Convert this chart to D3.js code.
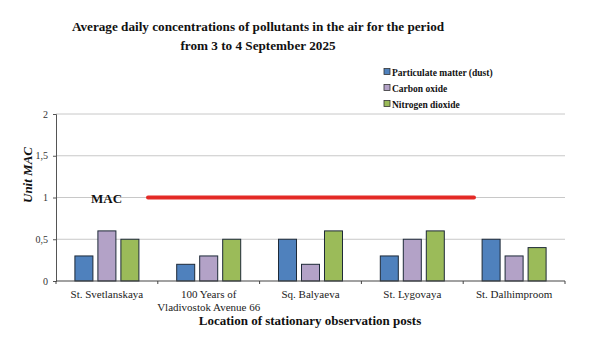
<!DOCTYPE html>
<html><head><meta charset="utf-8">
<script src="https://cdn.jsdelivr.net/npm/d3@7"></script>
</head>
<body style="margin:0;background:#fff"><svg id="c" width="591" height="346" style="font-family:'Liberation Serif'"></svg>
<script>
const categories = [["St. Svetlanskaya"], ["100 Years of", "Vladivostok Avenue 66"], ["Sq. Balyaeva"], ["St. Lygovaya"], ["St. Dalhimproom"]];
const seriesNames = ["Particulate matter (dust)", "Carbon oxide", "Nitrogen dioxide"];
const dust = [0.3, 0.2, 0.5, 0.3, 0.5];
const carbon = [0.6, 0.3, 0.2, 0.5, 0.3];
const nitrogen = [0.5, 0.5, 0.6, 0.6, 0.4];
const yTicks = [0, 0.5, 1, 1.5, 2];
const macValue = 1;
const colors = ["#4f81bd", "#b3a2c7", "#9bbb59"];
const series = [dust, carbon, nitrogen];
const FONT = '"Liberation Serif"';

const svg = d3.select("#c");
const L = 56, R = 565, T = 114, B = 281;
const GW = 64;
const x = d3.scaleBand().domain(d3.range(categories.length)).range([L, R]).paddingInner(0).paddingOuter(0);
const y = d3.scaleLinear().domain([0, 2]).range([B, T]);
const xi = d3.scaleBand().domain(d3.range(3)).range([0, GW]).paddingInner(0.217).paddingOuter(0);

function txt(sel) { return sel.append("text").style("font-family", FONT); }

// title
const titleLines = ["Average daily concentrations of pollutants in the air for the period", "from 3 to 4 September 2025"];
svg.append("g").selectAll("text").data(titleLines).join("text")
  .style("font-family", FONT)
  .attr("x", 258).attr("y", (d, i) => 31 + i * 19)
  .attr("text-anchor", "middle").attr("font-weight", "bold").attr("font-size", 13.2).attr("fill", "#111")
  .text(d => d);

// gridlines
svg.append("g").selectAll("line").data(yTicks.filter(d => d > 0)).join("line")
  .attr("x1", L).attr("x2", R).attr("y1", d => y(d)).attr("y2", d => y(d))
  .attr("stroke", "#c8c8c8").attr("stroke-width", 1);

// y axis
const yAxis = svg.append("g").attr("transform", `translate(${L},0)`)
  .call(d3.axisLeft(y).tickValues(yTicks).tickSize(3).tickPadding(5).tickFormat(d => String(d).replace(".", ",")));
yAxis.attr("font-family", FONT);
yAxis.select(".domain").attr("stroke", "#555");
yAxis.selectAll(".tick line").attr("stroke", "#555");
yAxis.selectAll("text").attr("font-size", 10).attr("fill", "#333").style("font-family", FONT);

// bars
const groups = svg.append("g").selectAll("g").data(categories).join("g")
  .attr("transform", (d, i) => `translate(${x(i) + (x.bandwidth() - GW) / 2},0)`);
groups.each(function(d, i) {
  d3.select(this).selectAll("rect").data(series.map((s, k) => ({k, v: s[i]}))).join("rect")
    .attr("x", e => xi(e.k)).attr("width", xi.bandwidth())
    .attr("y", e => y(e.v)).attr("height", e => y(0) - y(e.v))
    .attr("fill", e => colors[e.k]).attr("stroke", "#1e2a38").attr("stroke-width", 1);
});

// x axis
const xAxis = svg.append("g").attr("transform", `translate(0,${B})`);
xAxis.append("line").attr("x1", L).attr("x2", R).attr("stroke", "#444").attr("stroke-width", 1.2);
xAxis.selectAll(".tk").data(d3.range(categories.length + 1)).join("line")
  .attr("x1", i => L + i * x.step()).attr("x2", i => L + i * x.step())
  .attr("y1", 0).attr("y2", 3).attr("stroke", "#444");
const xlData = [];
categories.forEach((c, i) => c.forEach((line, j) => xlData.push({i, j, line})));
svg.append("g").selectAll("text").data(xlData).join("text")
  .style("font-family", FONT)
  .attr("text-anchor", "middle").attr("font-size", 11).attr("fill", "#222")
  .attr("x", d => x(d.i) + x.bandwidth() / 2).attr("y", d => 298 + d.j * 13)
  .text(d => d.line);

// axis titles
txt(svg).attr("x", 310).attr("y", 325).attr("text-anchor", "middle").attr("font-weight", "bold").attr("font-size", 13).attr("fill", "#111")
  .text("Location of stationary observation posts");
txt(svg).attr("transform", "translate(32,175) rotate(-90)").attr("text-anchor", "middle").attr("font-weight", "bold").attr("font-style", "italic").attr("font-size", 13).attr("fill", "#111")
  .text("Unit MAC");

// MAC line
svg.append("line").attr("x1", 148).attr("x2", 474).attr("y1", y(macValue)).attr("y2", y(macValue))
  .attr("stroke", "#e4201c").attr("stroke-width", 4).attr("stroke-linecap", "round").attr("opacity", 0.95);
txt(svg).attr("x", 91).attr("y", y(macValue) + 5).attr("font-weight", "bold").attr("font-size", 13).attr("fill", "#111").text("MAC");

// legend
const lg = svg.append("g").selectAll("g").data(seriesNames).join("g")
  .attr("transform", (d, i) => `translate(384,${72 + i * 16})`);
lg.append("rect").attr("x", 0).attr("y", -3.5).attr("width", 6).attr("height", 6)
  .attr("fill", (d, i) => colors[i]).attr("stroke", "#333").attr("stroke-width", 0.8);
lg.append("text").style("font-family", FONT).attr("x", 8).attr("y", 3.5).attr("font-size", 9.5).attr("font-weight", "bold").attr("fill", "#111").text(d => d);
</script></body></html>
